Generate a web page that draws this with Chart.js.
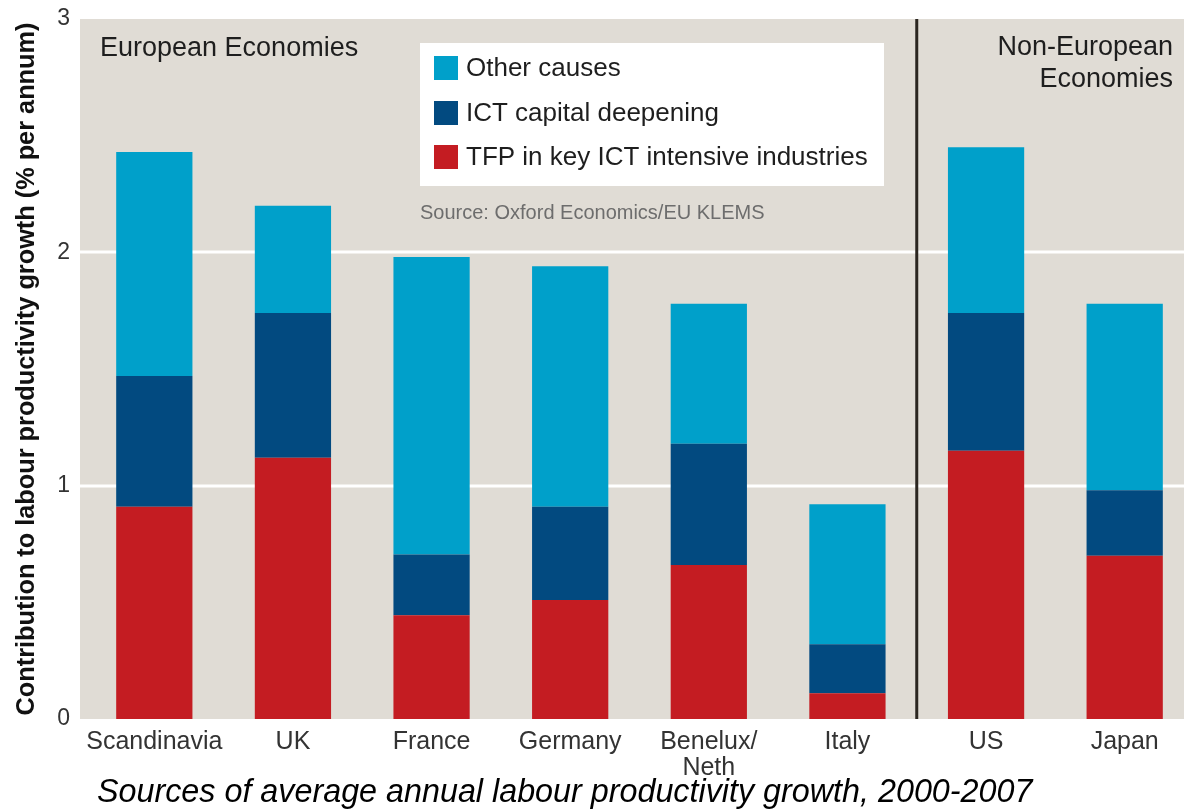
<!DOCTYPE html>
<html>
<head>
<meta charset="utf-8">
<script src="https://cdn.jsdelivr.net/npm/chart.js@4.4.1/dist/chart.umd.min.js"></script>
<style>
  html,body{margin:0;padding:0;background:#fff;overflow:hidden;}
  #wrap{width:1194px;height:810px;}
</style>
</head>
<body>
<div id="wrap"><canvas id="c" width="1194" height="810"></canvas></div>
<script>
// values (% per annum)
const categories  = ['Scandinavia','UK','France','Germany',['Benelux/','Neth'],'Italy','US','Japan'];
const tfpKeyIct   = [0.91, 1.12, 0.445, 0.51, 0.66, 0.11, 1.15, 0.70];
const ictCapital  = [0.56, 0.62, 0.26, 0.40, 0.52, 0.21, 0.59, 0.28];
const otherCauses = [0.96, 0.46, 1.275, 1.03, 0.60, 0.60, 0.71, 0.80];
const yTicks      = [0, 1, 2, 3];

const FONT = '"Liberation Sans", Arial, Helvetica, sans-serif';
const BEIGE = '#e0dcd5';

// background, white grid lines, divider, panel labels, legend box, caption
const decor = {
  id:'decor',
  beforeDatasetsDraw(chart){
    const {ctx, chartArea:a, scales:{x,y}} = chart;
    ctx.save();
    ctx.fillStyle = BEIGE;
    ctx.fillRect(80, a.top, a.right-80, a.bottom-a.top);
    ctx.strokeStyle = '#ffffff'; ctx.lineWidth = 3;
    y.ticks.forEach(t=>{
      if(t.value<=0 || t.value>=3) return;
      const py = Math.round(y.getPixelForValue(t.value));
      ctx.beginPath(); ctx.moveTo(80,py); ctx.lineTo(a.right,py); ctx.stroke();
    });
    ctx.restore();
  },
  afterDatasetsDraw(chart){
    const {ctx, chartArea:a, scales:{x}} = chart;
    ctx.save();
    // divider between European and non-European groups
    const dx = (x.getPixelForValue(5)+x.getPixelForValue(6))/2;
    ctx.strokeStyle = '#2b2620'; ctx.lineWidth = 3;
    ctx.beginPath(); ctx.moveTo(dx,a.top); ctx.lineTo(dx,a.bottom); ctx.stroke();

    ctx.fillStyle = '#1e1e1e';
    ctx.font = '27px '+FONT; ctx.textBaseline = 'middle';
    ctx.textAlign = 'left';
    ctx.fillText('European Economies', 100, 49);
    ctx.textAlign = 'right';
    ctx.fillText('Non-European', 1173, 48);
    ctx.fillText('Economies', 1173, 80);

    // legend box
    ctx.fillStyle = '#ffffff';
    ctx.fillRect(420, 43, 464, 143);
    const items = chart.data.datasets.slice().reverse();
    const rows = [68, 113, 157];
    ctx.textAlign = 'left'; ctx.font = '26px '+FONT;
    items.forEach((ds,i)=>{
      ctx.fillStyle = ds.backgroundColor;
      ctx.fillRect(434, rows[i]-12, 24, 24);
      ctx.fillStyle = '#1e1e1e';
      ctx.fillText(ds.label, 466, rows[i]+1);
    });
    ctx.fillStyle = '#6d6d6d'; ctx.font = '20px '+FONT;
    ctx.fillText('Source: Oxford Economics/EU KLEMS', 420, 213);

    // caption under the chart
    ctx.fillStyle = '#000000'; ctx.font = 'italic 32.3px '+FONT;
    ctx.textAlign = 'left';
    ctx.fillText('Sources of average annual labour productivity growth, 2000-2007', 97, 793);
    ctx.restore();
  }
};

new Chart(document.getElementById('c'), {
  type:'bar',
  data:{
    labels:categories,
    datasets:[
      {label:'TFP in key ICT intensive industries', data:tfpKeyIct,   backgroundColor:'#c41c22'},
      {label:'ICT capital deepening',               data:ictCapital,  backgroundColor:'#024a80'},
      {label:'Other causes',                        data:otherCauses, backgroundColor:'#00a0ca'}
    ]
  },
  plugins:[decor],
  options:{
    responsive:false, animation:false, devicePixelRatio:1,
    layout:{padding:{top:19,left:0,right:0,bottom:0}},
    datasets:{bar:{categoryPercentage:1, barPercentage:0.55, borderWidth:0}},
    plugins:{legend:{display:false}, tooltip:{enabled:false}, title:{display:false}},
    scales:{
      x:{
        stacked:true,
        grid:{display:false, drawTicks:false}, border:{display:false},
        ticks:{color:'#333', padding:10, font:{family:FONT, size:25, lineHeight:1.05}, maxRotation:0, autoSkip:false},
        afterFit(s){ s.height = 91; s.paddingLeft = 0; s.paddingRight = 0; }
      },
      y:{
        stacked:true, min:0, max:3,
        afterBuildTicks(s){ s.ticks = yTicks.map(v=>({value:v})); },
        grid:{display:false, drawTicks:false}, border:{display:false},
        ticks:{color:'#333', padding:15, font:{family:FONT, size:23}},
        title:{display:true, text:'Contribution to labour productivity growth (% per annum)',
               color:'#111', font:{family:FONT, size:25.3, weight:'bold'}, padding:{top:12,bottom:0}},
        afterFit(s){ s.width = 85; s.paddingTop = 0; s.paddingBottom = 0; }
      }
    }
  }
});
</script>
</body>
</html>
